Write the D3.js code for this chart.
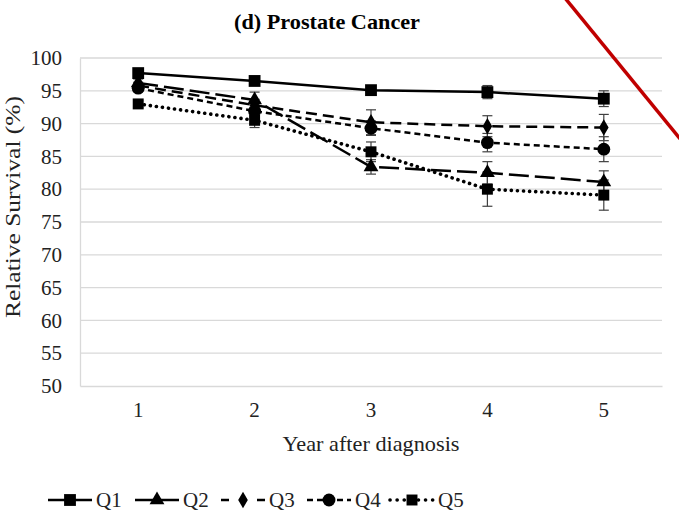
<!DOCTYPE html>
<html>
<head>
<meta charset="utf-8">
<script src="https://cdn.jsdelivr.net/npm/d3@7"></script>
<style>
  body { margin: 0; background: #fff; }
  svg { display: block; }
  svg text { font-family: "Liberation Serif", "Times New Roman", serif; }
</style>
</head>
<body>
<div id="chart"></div>
<script>
// data
const years = [1, 2, 3, 4, 5];
const yTicks = [50, 55, 60, 65, 70, 75, 80, 85, 90, 95, 100];
const seriesNames = ['Q1', 'Q2', 'Q3', 'Q4', 'Q5'];
const q1 = [97.7, 96.5, 95.1, 94.8, 93.8];
const q2 = [96.2, 93.6, 83.4, 82.5, 81.1];
const q3 = [95.8, 92.8, 90.2, 89.6, 89.4];
const q4 = [95.4, 91.9, 89.3, 87.1, 86.1];
const q5 = [93.0, 90.5, 85.7, 80.0, 79.1];
const q1Err = [0.4, 0.5, 0.6, 1.0, 1.2];
const q2Err = [0.6, 1.2, 1.1, 1.7, 1.7];
const q3Err = [0.5, 0.9, 1.9, 1.6, 2.0];
const q4Err = [0.5, 0.9, 1.1, 1.4, 1.9];
const q5Err = [0.5, 1.1, 1.5, 2.6, 2.3];

const width = 679, height = 521;
const margin = { top: 58, right: 17, bottom: 135, left: 80 };
const innerW = width - margin.left - margin.right;
const innerH = height - margin.top - margin.bottom;

const styles = [
  { dash: null, legendDash: null, cap: 'butt', w: 2.5, marker: 'square', size: 140 },
  { dash: '20,6', legendDash: null, cap: 'butt', w: 2.5, marker: 'triangle', size: 95 },
  { dash: '11,6', legendDash: '8,10', cap: 'butt', w: 2.5, marker: 'diamond', size: 80 },
  { dash: '6,4', legendDash: '6,4', cap: 'butt', w: 2.5, marker: 'circle', size: 130 },
  { dash: '0.1,6', legendDash: '0.1,7', cap: 'round', w: 3.6, marker: 'square', size: 120 }
];
const series = [q1, q2, q3, q4, q5].map((vals, i) => ({
  name: seriesNames[i],
  values: vals,
  err: [q1Err, q2Err, q3Err, q4Err, q5Err][i],
  style: styles[i]
}));

const symbolType = {
  square: d3.symbolSquare,
  triangle: d3.symbolTriangle,
  diamond: d3.symbolDiamond,
  circle: d3.symbolCircle
};

const serif = '"Liberation Serif", "Times New Roman", serif';

const svg = d3.select('#chart').append('svg')
  .attr('width', width)
  .attr('height', height);

const chart = svg.append('g')
  .attr('transform', `translate(${margin.left}, ${margin.top})`);

const x = d3.scaleBand().domain(years).range([0, innerW]);
const y = d3.scaleLinear().domain([50, 100]).range([innerH, 0]);
const xc = d => x(d) + x.bandwidth() / 2;

// gridlines
chart.append('g')
  .selectAll('line')
  .data(yTicks.filter(t => t > 50))
  .enter().append('line')
  .attr('x1', 0).attr('x2', innerW)
  .attr('y1', d => y(d)).attr('y2', d => y(d))
  .attr('stroke', '#d9d9d9')
  .attr('stroke-width', 1.3);

// axes
const yAxis = chart.append('g')
  .call(d3.axisLeft(y).tickValues(yTicks).tickSize(0).tickPadding(18));
yAxis.select('.domain').attr('stroke', '#d9d9d9').attr('stroke-width', 1.3);
yAxis.selectAll('text')
  .style('font-family', serif)
  .style('font-size', '21px')
  .attr('fill', '#222');

const xAxis = chart.append('g')
  .attr('transform', `translate(0, ${innerH})`)
  .call(d3.axisBottom(x).tickSize(0).tickPadding(16));
xAxis.select('.domain').attr('stroke', '#d9d9d9').attr('stroke-width', 1.3);
xAxis.selectAll('text')
  .style('font-family', serif)
  .style('font-size', '21px')
  .attr('fill', '#222');

// error bars
series.forEach(s => {
  const g = chart.append('g').attr('stroke', '#404040').attr('stroke-width', 1.2);
  years.forEach((yr, i) => {
    const cx = xc(yr);
    const lo = y(s.values[i] - s.err[i]);
    const hi = y(s.values[i] + s.err[i]);
    g.append('line').attr('x1', cx).attr('x2', cx).attr('y1', lo).attr('y2', hi);
    g.append('line').attr('x1', cx - 5).attr('x2', cx + 5).attr('y1', lo).attr('y2', lo);
    g.append('line').attr('x1', cx - 5).attr('x2', cx + 5).attr('y1', hi).attr('y2', hi);
  });
});

// lines
const line = d3.line()
  .x((d, i) => xc(years[i]))
  .y(d => y(d));

series.forEach(s => {
  chart.append('path')
    .datum(s.values)
    .attr('fill', 'none')
    .attr('stroke', '#000')
    .attr('stroke-width', s.style.w)
    .attr('stroke-linecap', s.style.cap)
    .attr('stroke-dasharray', s.style.dash)
    .attr('d', line);
});

// markers
series.forEach(s => {
  chart.append('g')
    .selectAll('path')
    .data(s.values)
    .enter().append('path')
    .attr('transform', (d, i) => `translate(${xc(years[i])}, ${y(d)})`)
    .attr('d', d3.symbol().type(symbolType[s.style.marker]).size(s.style.size))
    .attr('fill', '#000');
});

// title + axis titles
svg.append('text')
  .attr('x', 327).attr('y', 29)
  .attr('text-anchor', 'middle')
  .style('font-family', serif)
  .style('font-weight', 'bold')
  .style('font-size', '21px')
  .attr('textLength', 186)
  .attr('lengthAdjust', 'spacingAndGlyphs')
  .text('(d) Prostate Cancer');

svg.append('text')
  .attr('x', 371).attr('y', 451)
  .attr('text-anchor', 'middle')
  .style('font-family', serif)
  .style('font-size', '21px')
  .attr('fill', '#222')
  .attr('textLength', 177)
  .attr('lengthAdjust', 'spacingAndGlyphs')
  .text('Year after diagnosis');

svg.append('text')
  .attr('transform', `translate(20, 207) rotate(-90)`)
  .attr('text-anchor', 'middle')
  .style('font-family', serif)
  .style('font-size', '21px')
  .attr('fill', '#222')
  .attr('textLength', 222)
  .attr('lengthAdjust', 'spacingAndGlyphs')
  .text('Relative Survival (%)');

// legend
const legendX = [48, 135, 221, 307, 390];
const legendY = 500;
const legend = svg.append('g');
series.forEach((s, i) => {
  const lx = legendX[i];
  legend.append('line')
    .attr('x1', lx).attr('x2', lx + 44)
    .attr('y1', legendY).attr('y2', legendY)
    .attr('stroke', '#000')
    .attr('stroke-width', s.style.w)
    .attr('stroke-linecap', s.style.cap)
    .attr('stroke-dasharray', s.style.legendDash);
  legend.append('path')
    .attr('transform', `translate(${lx + 22}, ${legendY})`)
    .attr('d', d3.symbol().type(symbolType[s.style.marker]).size(s.style.size))
    .attr('fill', '#000');
  legend.append('text')
    .attr('x', lx + 48).attr('y', legendY + 7)
    .style('font-family', serif)
    .style('font-size', '21px')
    .attr('fill', '#222')
    .text(s.name);
});

// red strike mark in the top-right corner of the source image
svg.append('line')
  .attr('x1', 565).attr('y1', -2)
  .attr('x2', 681).attr('y2', 140)
  .attr('stroke', '#c00000')
  .attr('stroke-width', 3.5);
</script>
</body>
</html>
